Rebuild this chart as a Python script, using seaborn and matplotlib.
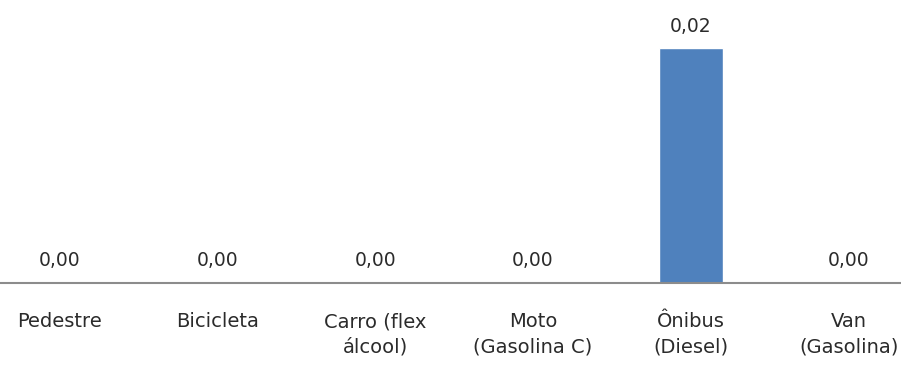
import matplotlib
matplotlib.use("Agg")
import matplotlib.pyplot as plt
import seaborn as sns
import pandas as pd

categories = ["Pedestre", "Bicicleta", "Carro (flex\nálcool)", "Moto\n(Gasolina C)",
              "Ônibus\n(Diesel)", "Van\n(Gasolina)"]
values = [0.0, 0.0, 0.0, 0.0, 0.02, 0.0]

sns.set_theme(style="white")
plt.rcParams["font.family"] = ["DejaVu Sans"]

df = pd.DataFrame({"categoria": categories, "valor": values})

fig = plt.figure(figsize=(9.01, 3.65), dpi=100)
ax = fig.add_axes([0, 82 / 365, 1, 283 / 365])

sns.barplot(data=df, x="categoria", y="valor", color="#4F81BD", width=0.407,
            saturation=1, ax=ax)

ax.set_xlim(-0.375, 5.33)
ax.set_ylim(0, 0.02 * 283 / 235)

for c in ax.containers:
    ax.bar_label(c, labels=[f"{v:.2f}".replace(".", ",") for v in values],
                 padding=9, fontsize=13.5, color="#2b2b2b")

for s in ["top", "left", "right"]:
    ax.spines[s].set_visible(False)
ax.spines["bottom"].set_color("#8c8c8c")
ax.spines["bottom"].set_linewidth(1.5)
ax.set_yticks([])
ax.set_xlabel("")
ax.set_ylabel("")
ax.tick_params(axis="x", length=0, pad=21, labelsize=14, labelcolor="#2b2b2b")
for t in ax.get_xticklabels():
    t.set_linespacing(1.45)

fig.savefig("out.png", dpi=100)
